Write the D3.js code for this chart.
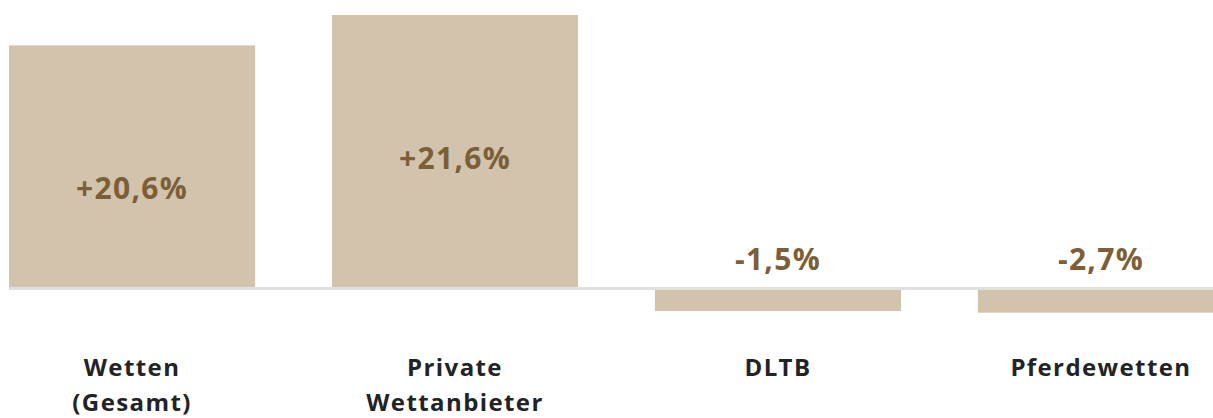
<!DOCTYPE html>
<html>
<head>
<meta charset="utf-8">
<script src="https://cdn.jsdelivr.net/npm/d3@7"></script>
<style>
  html, body { margin: 0; padding: 0; background: #fff; overflow: hidden; }
  svg { display: block; }
</style>
</head>
<body>
<div id="chart"></div>
<script>
// Data
const categories  = ["Wetten (Gesamt)", "Private Wettanbieter", "DLTB", "Pferdewetten"];
const labelLines  = [["Wetten", "(Gesamt)"], ["Private", "Wettanbieter"], ["DLTB"], ["Pferdewetten"]];
const changeText  = ["+20,6%", "+21,6%", "-1,5%", "-2,7%"];
// bar lengths as drawn in the picture (not strictly proportional to the labels)
const barValues   = [19.2, 21.6, -1.78, -1.91];

const width = 1213, height = 418;

const svg = d3.select("#chart")
  .append("svg")
    .attr("width", width)
    .attr("height", height);

// Scales
const x = d3.scaleBand()
  .domain(categories)
  .range([9, 1224])
  .paddingInner(0.238)
  .paddingOuter(0);

const y = d3.scaleLinear()
  .domain(d3.extent(barValues))
  .range([312.7, 15]);

const barColor  = "#d2c3ad";
const textBrown = "#7c5f37";
const textDark  = "#222325";
const font      = "'Open Sans', 'DejaVu Sans', sans-serif";

// Bars
svg.selectAll("rect.bar")
  .data(barValues)
  .enter().append("rect")
    .attr("class", "bar")
    .attr("x", (d, i) => x(categories[i]))
    .attr("width", x.bandwidth())
    .attr("y", d => Math.min(y(d), y(0)))
    .attr("height", d => Math.abs(y(d) - y(0)))
    .style("fill", barColor);

// Zero line
svg.append("line")
  .attr("x1", x.range()[0])
  .attr("x2", x.range()[1])
  .attr("y1", y(0))
  .attr("y2", y(0))
  .style("stroke", "#e1e0dc")
  .style("stroke-width", 3);

// Value labels
svg.selectAll("text.value")
  .data(barValues)
  .enter().append("text")
    .attr("class", "value")
    .attr("x", (d, i) => x(categories[i]) + x.bandwidth() / 2)
    .attr("y", d => d >= 0 ? y(d) + 154 : y(0) - 18.5)
    .attr("text-anchor", "middle")
    .style("font-family", font)
    .style("font-weight", 700)
    .style("font-size", "30px")
    .style("letter-spacing", "1.3px")
    .style("fill", textBrown)
    .text((d, i) => changeText[i]);

// Category labels
const cat = svg.selectAll("text.cat")
  .data(labelLines)
  .enter().append("text")
    .attr("class", "cat")
    .attr("x", (d, i) => x(categories[i]) + x.bandwidth() / 2)
    .attr("y", 376)
    .attr("text-anchor", "middle")
    .style("font-family", font)
    .style("font-weight", 700)
    .style("font-size", "24px")
    .style("letter-spacing", "1.4px")
    .style("fill", textDark);

cat.selectAll("tspan")
  .data(d => d)
  .enter().append("tspan")
    .attr("x", function() { return d3.select(this.parentNode).attr("x"); })
    .attr("dy", (d, i) => i === 0 ? 0 : 35)
    .text(d => d);
</script>
</body>
</html>
